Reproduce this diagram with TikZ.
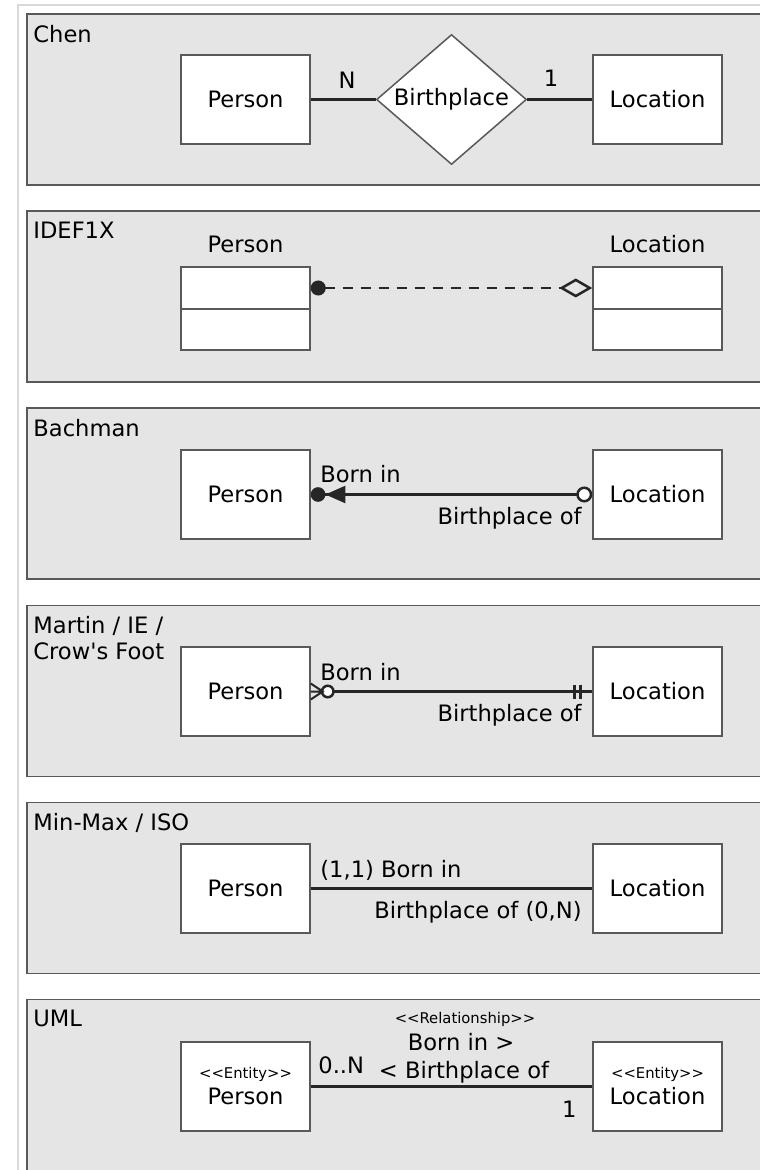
\documentclass[tikz,border=0pt]{standalone}
\usepackage{fontspec}
\setmainfont{DejaVu Sans}[Ligatures=TeXOff]
\usetikzlibrary{positioning,shapes.geometric,arrows.meta}

\newcommand\stereo[1]{{\fontsize{7.4}{8.5}\selectfont <<#1>>}}

\tikzset{
  panel/.style={draw=black!65, fill=black!10, line width=0.75pt},
  entity/.style={draw=black!65, fill=white, line width=0.75pt, minimum width=64.5pt, minimum height=44.5pt, inner sep=0pt},
  compart/.style={entity, minimum height=21pt},
  relship/.style={diamond, draw=black!65, fill=white, line width=0.75pt, minimum width=75pt, minimum height=65pt, inner sep=0pt, shape aspect=1.15},
  conn/.style={draw=black!85, line width=1.25pt},
  heading/.style={anchor=north west, align=left, inner sep=0pt},
  role/.style={inner sep=0pt},
}

\begin{document}
\begin{tikzpicture}[x=0.5pt, y=-0.5pt, font=\fontsize{11.3}{13}\selectfont]
    \useasboundingbox (0,0) rectangle (759,1170);
    \draw[black!15, line width=1pt] (18,5) rectangle (800,1200);
    % panels
    \foreach \i/\title in {0/Chen, 1/IDEF1X, 2/Bachman, 3/{Martin / IE /\\Crow's Foot}, 4/{Min-Max / ISO}, 5/UML}{
        \draw[panel] (27,14+197.1*\i) rectangle (780,185+197.1*\i);
        \node[heading] (title\i) at (33,24.5+197.1*\i) {\title};
    }
    % Chen
    \node[entity] (per1) at (245.5,99.5) {Person};
    \node[relship] (bp1) at (451.5,99.5) {Birthplace};
    \node[entity] (loc1) at (657.5,99.5) {Location};
    \draw[conn] (per1) -- (bp1) -- (loc1);
    \node[role] (card1n) at (347,80) {N};
    \node[role] (card1o) at (551,78) {1};
    % IDEF1X
    \node[role] (pname2) at (245.5,244) {Person};
    \node[role] (lname2) at (657.5,244) {Location};
    \node[compart] (per2) at (245.5,288) {};
    \node[compart, minimum height=20.5pt] (per2b) at (245.5,329.5) {};
    \node[compart] (loc2) at (657.5,288) {};
    \node[compart, minimum height=20.5pt] (loc2b) at (657.5,329.5) {};
    \draw[conn, dash pattern=on 5pt off 4pt, {Circle[length=7.5pt]}-{Diamond[open, length=16.5pt, width=9.5pt]}] (per2) -- (loc2);
    % Bachman
    \node[entity] (per3) at (245.5,494.5) {Person};
    \node[entity] (loc3) at (657.5,494.5) {Location};
    \draw[conn, {Circle[length=7.3pt, sep=0pt] Triangle[length=10pt, width=8.5pt]}-{Circle[open, fill=white, length=8pt]}] (per3) -- (loc3);
    \node[role, anchor=base west] (born3) at (320,482) {Born in};
    \node[role, anchor=base east] (bof3) at (582,524) {Birthplace of};
    % Martin / IE / Crow's Foot
    \node[entity] (per4) at (245.5,691.5) {Person};
    \node[entity] (loc4) at (657.5,691.5) {Location};
    \draw[conn, shorten <=5pt, {Circle[open, fill=white, length=7pt]}-] (per4) -- (loc4);
    \draw[conn, line width=1pt] (per4.east) ++(0,-8) -- ++(12,8) -- ++(-12,8) (per4.east) -- ++(12,0);
    \draw[conn] (loc4.west) ++(-18,-7) -- ++(0,14) (loc4.west) ++(-12,-7) -- ++(0,14);
    \node[role, anchor=base west] (born4) at (320,680) {Born in};
    \node[role, anchor=base east] (bof4) at (582,721) {Birthplace of};
    % Min-Max / ISO
    \node[entity] (per5) at (245.5,888.5) {Person};
    \node[entity] (loc5) at (657.5,888.5) {Location};
    \draw[conn] (per5) -- (loc5);
    \node[role, anchor=base west] (born5) at (320,877) {(1,1) Born in};
    \node[role, anchor=base east] (bof5) at (582,918) {Birthplace of (0,N)};
    % UML
    \node[entity, align=center] (per6) at (245.5,1086.5) {\stereo{Entity}\\Person};
    \node[entity, align=center] (loc6) at (657.5,1086.5) {\stereo{Entity}\\Location};
    \draw[conn] (per6) -- (loc6);
    \node[role, anchor=base] (ster6) at (465,1023) {\stereo{Relationship}};
    \node[role, anchor=base] (born6) at (461,1050) {Born in >};
    \node[role, anchor=base] (bof6) at (464,1078) {< Birthplace of};
    \node[role, anchor=base west] (card6n) at (318,1073) {0..N};
    \node[role, anchor=base east] (card6o) at (577,1117) {1};
\end{tikzpicture}
\end{document}
